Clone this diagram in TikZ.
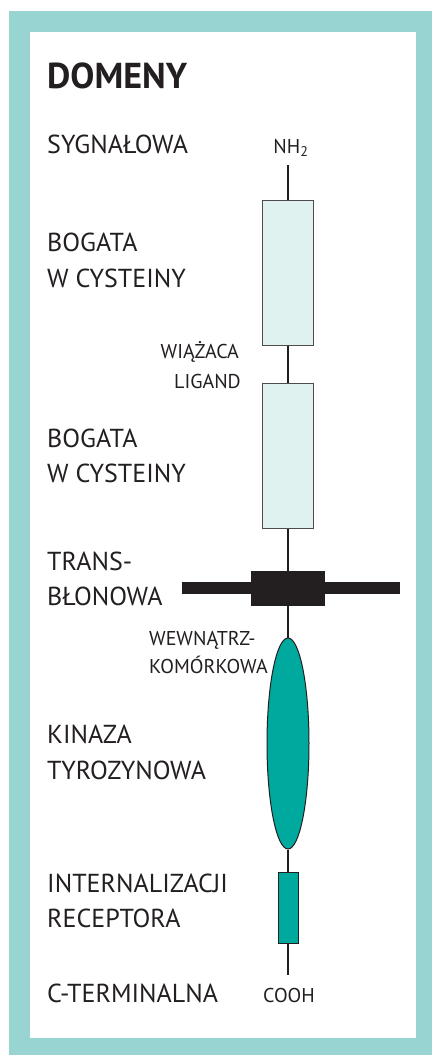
\documentclass[tikz,border=0pt]{standalone}
\usepackage{fontspec}
\setmainfont{PT Sans}
\usetikzlibrary{shapes.geometric}
\definecolor{frame}{HTML}{98D4D1}
\definecolor{lightbox}{HTML}{E0F2F0}
\definecolor{teal}{HTML}{00A99D}
\definecolor{ink}{HTML}{231F20}
\tikzset{
  lbl/.style={anchor=base west, inner sep=0pt, text=ink, font=\fontsize{26}{30}\selectfont},
  small/.style={inner sep=0pt, text=ink, font=\fontsize{20}{24}\selectfont},
  stem/.style={draw=ink, line width=2pt},
  cys/.style={draw=ink!80, fill=lightbox, line width=1pt, minimum width=51pt, inner sep=0pt},
  tealbox/.style={draw=ink, fill=teal, line width=1pt, inner sep=0pt}
}
\begin{document}
\begin{tikzpicture}[x=1pt,y=-1pt]
\useasboundingbox (0,0) rectangle (432,1055);
\fill[white] (0,0) rectangle (432,1055);
\fill[frame] (9,11) rectangle (432,1055);
\fill[white] (30,32) rectangle (416,1038);
% title
\node[lbl, font=\fontsize{36}{40}\selectfont\bfseries] (title) at (47,88) {DOMENY};
% left labels
\node[lbl] (l1) at (47,153) {SYGNAŁOWA};
\node[lbl] (l2) at (47,251) {BOGATA};
\node[lbl] (l2b) at (47,287) {W CYSTEINY};
\node[lbl] (l3) at (47,447) {BOGATA};
\node[lbl] (l3b) at (47,482) {W CYSTEINY};
\node[lbl] (l4) at (47,570) {TRANS-};
\node[lbl] (l4b) at (47,605) {BŁONOWA};
\node[lbl] (l5) at (47,743) {KINAZA};
\node[lbl] (l5b) at (47,779) {TYROZYNOWA};
\node[lbl] (l6) at (47,892) {INTERNALIZACJI};
\node[lbl] (l6b) at (47,927) {RECEPTORA};
\node[lbl] (l7) at (47,1002) {C-TERMINALNA};
% small labels
\node[small, anchor=base east] (w1) at (239,358) {WIĄŻACA};
\node[small, anchor=base east] (w2) at (241,388) {LIGAND};
\node[small, anchor=base west] (w3) at (149,645) {WEWNĄTRZ-};
\node[small, anchor=base west] (w4) at (149,673) {KOMÓRKOWA};
\node[small, anchor=base] (nh2) at (291,153) {NH\textsubscript{2}};
\node[small, anchor=base] (cooh) at (289,1002) {COOH};
% structure
\coordinate (top) at (288,165);
\coordinate (bot) at (288,975);
\node[cys, minimum height=145pt] (b1) at (288,272.5) {};
\node[cys, minimum height=145pt] (b2) at (288,455.5) {};
\fill[ink] (182,582) rectangle (400,594);
\node[fill=ink, minimum width=74pt, minimum height=35pt, inner sep=0pt] (mem) at (288,588.5) {};
\node[tealbox, ellipse, minimum width=42pt, minimum height=211pt] (kin) at (288,743.5) {};
\node[tealbox, minimum width=20pt, minimum height=71pt] (int) at (288,907.5) {};
\draw[stem] (top) -- (b1.north);
\draw[stem] (b1.south) -- (b2.north);
\draw[stem] (b2.south) -- (mem.north);
\draw[stem] (mem.south) -- (kin.north);
\draw[stem] (kin.south) -- (int.north);
\draw[stem] (int.south) -- (bot);
\end{tikzpicture}
\end{document}
